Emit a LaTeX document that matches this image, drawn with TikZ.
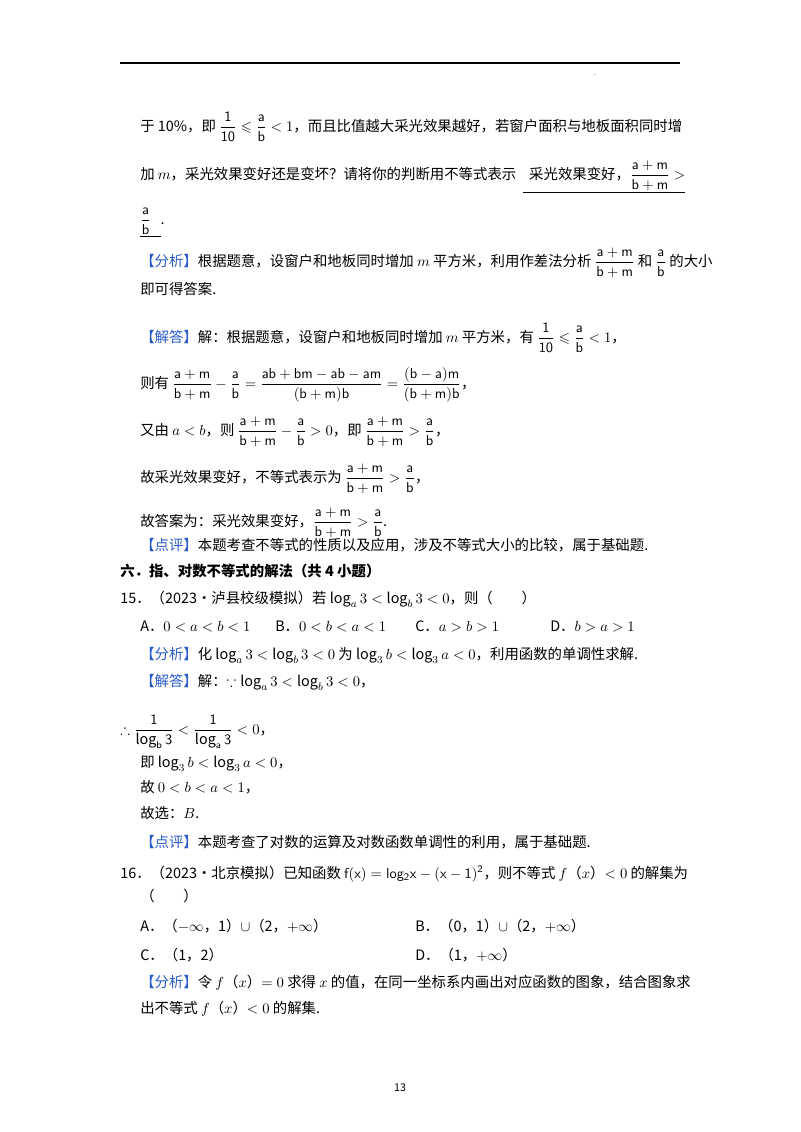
\documentclass[tikz,border=0pt]{standalone}
\usepackage{amsmath,amssymb}
\usepackage{fontspec}
\setmainfont{Noto Sans CJK SC}
\definecolor{tagblue}{RGB}{40,90,200}
\newcommand{\tg}[1]{\textcolor{tagblue}{【#1】}}
\newcommand{\fr}[2]{\dfrac{\mathsf{#1}}{\mathsf{#2}}}
\begin{document}
\begin{tikzpicture}[x=0.75pt,y=-0.75pt,
  txt/.style={anchor=base west,inner sep=0pt,font=\fontsize{10.8}{13}\selectfont},
  head/.style={txt,font=\fontsize{10.8}{13}\selectfont\bfseries}]
    % Seite
    \useasboundingbox (0,0) rectangle (800,1132);
    \draw[line width=0.8pt] (120,63) -- (680,63);
    \node[inner sep=0pt,font=\tiny] (dot) at (595,75) {.};

    % Aufgabe 14 (Fortsetzung)
    \node[txt] (l1) at (140,131) {于 10\%，即 $\fr{1}{10}\leqslant\fr{a}{b}<1$，而且比值越大采光效果越好，若窗户面积与地板面积同时增};
    \node[txt] (l2) at (140,179) {加 $m$，采光效果变好还是变坏？请将你的判断用不等式表示\ \ \underline{\ \ 采光效果变好，$\fr{a+m}{b+m}>$}};
    \node[txt] (l3) at (140,224) {\underline{$\fr{a}{b}$\ \ \ }.};
    \node[txt] (l4) at (140,266) {\tg{分析}根据题意，设窗户和地板同时增加 $m$ 平方米，利用作差法分析 $\fr{a+m}{b+m}$ 和 $\fr{a}{b}$ 的大小};
    \node[txt] (l5) at (140,294) {即可得答案.};
    \node[txt] (l6) at (140,342) {\tg{解答}解：根据题意，设窗户和地板同时增加 $m$ 平方米，有 $\fr{1}{10}\leqslant\fr{a}{b}<1$，};
    \node[txt] (l7) at (140,388) {则有 $\fr{a+m}{b+m}-\fr{a}{b}=\fr{ab+bm-ab-am}{(b+m)b}=\fr{(b-a)m}{(b+m)b}$，};
    \node[txt] (l8) at (140,435) {又由 $a<b$，则 $\fr{a+m}{b+m}-\fr{a}{b}>0$，即 $\fr{a+m}{b+m}>\fr{a}{b}$，};
    \node[txt] (l9) at (140,482) {故采光效果变好，不等式表示为 $\fr{a+m}{b+m}>\fr{a}{b}$，};
    \node[txt] (l10) at (140,526) {故答案为：采光效果变好，$\fr{a+m}{b+m}>\fr{a}{b}$.};
    \node[txt] (l11) at (140,550) {\tg{点评}本题考查不等式的性质以及应用，涉及不等式大小的比较，属于基础题.};

    % Abschnitt sechs
    \node[head] (sec) at (120,576) {六．指、对数不等式的解法（共 4 小题）};

    % Aufgabe 15
    \node[txt] (q15) at (120,603) {15．（2023•泸县校级模拟）若 $\log_a3<\log_b3<0$，则（\qquad）};
    \node[txt] (o15a) at (140,631) {A．$0<a<b<1$};
    \node[txt] (o15b) at (275,631) {B．$0<b<a<1$};
    \node[txt] (o15c) at (415,631) {C．$a>b>1$};
    \node[txt] (o15d) at (550,631) {D．$b>a>1$};
    \node[txt] (a15) at (140,659) {\tg{分析}化 $\log_a3<\log_b3<0$ 为 $\log_3b<\log_3a<0$，利用函数的单调性求解.};
    \node[txt] (b15) at (140,686) {\tg{解答}解：$\because\log_a3<\log_b3<0$，};
    \node[txt] (c15) at (120,734) {$\therefore\fr{1}{\log_b3}<\fr{1}{\log_a3}<0$，};
    \node[txt] (d15) at (140,767) {即 $\log_3b<\log_3a<0$，};
    \node[txt] (e15) at (140,792) {故 $0<b<a<1$，};
    \node[txt] (f15) at (140,818) {故选：$B$.};
    \node[txt] (g15) at (140,847) {\tg{点评}本题考查了对数的运算及对数函数单调性的利用，属于基础题.};

    % Aufgabe 16
    \node[txt] (q16) at (120,878) {16．（2023•北京模拟）已知函数 $\mathsf{f(x)=log_2x-(x-1)^2}$，则不等式 $f$（$x$）$<0$ 的解集为};
    \node[txt] (q16b) at (140,901) {（\qquad）};
    \node[txt] (o16a) at (140,931) {A．（$-\infty$，1）$\cup$（2，$+\infty$）};
    \node[txt] (o16b) at (415,931) {B．（0，1）$\cup$（2，$+\infty$）};
    \node[txt] (o16c) at (140,960) {C．（1，2）};
    \node[txt] (o16d) at (415,960) {D．（1，$+\infty$）};
    \node[txt] (a16) at (140,987) {\tg{分析}令 $f$（$x$）$=0$ 求得 $x$ 的值，在同一坐标系内画出对应函数的图象，结合图象求};
    \node[txt] (b16) at (140,1013) {出不等式 $f$（$x$）$<0$ 的解集.};

    % Seitenzahl
    \node[inner sep=0pt,font=\footnotesize] (page) at (400,1088) {13};
\end{tikzpicture}
\end{document}
